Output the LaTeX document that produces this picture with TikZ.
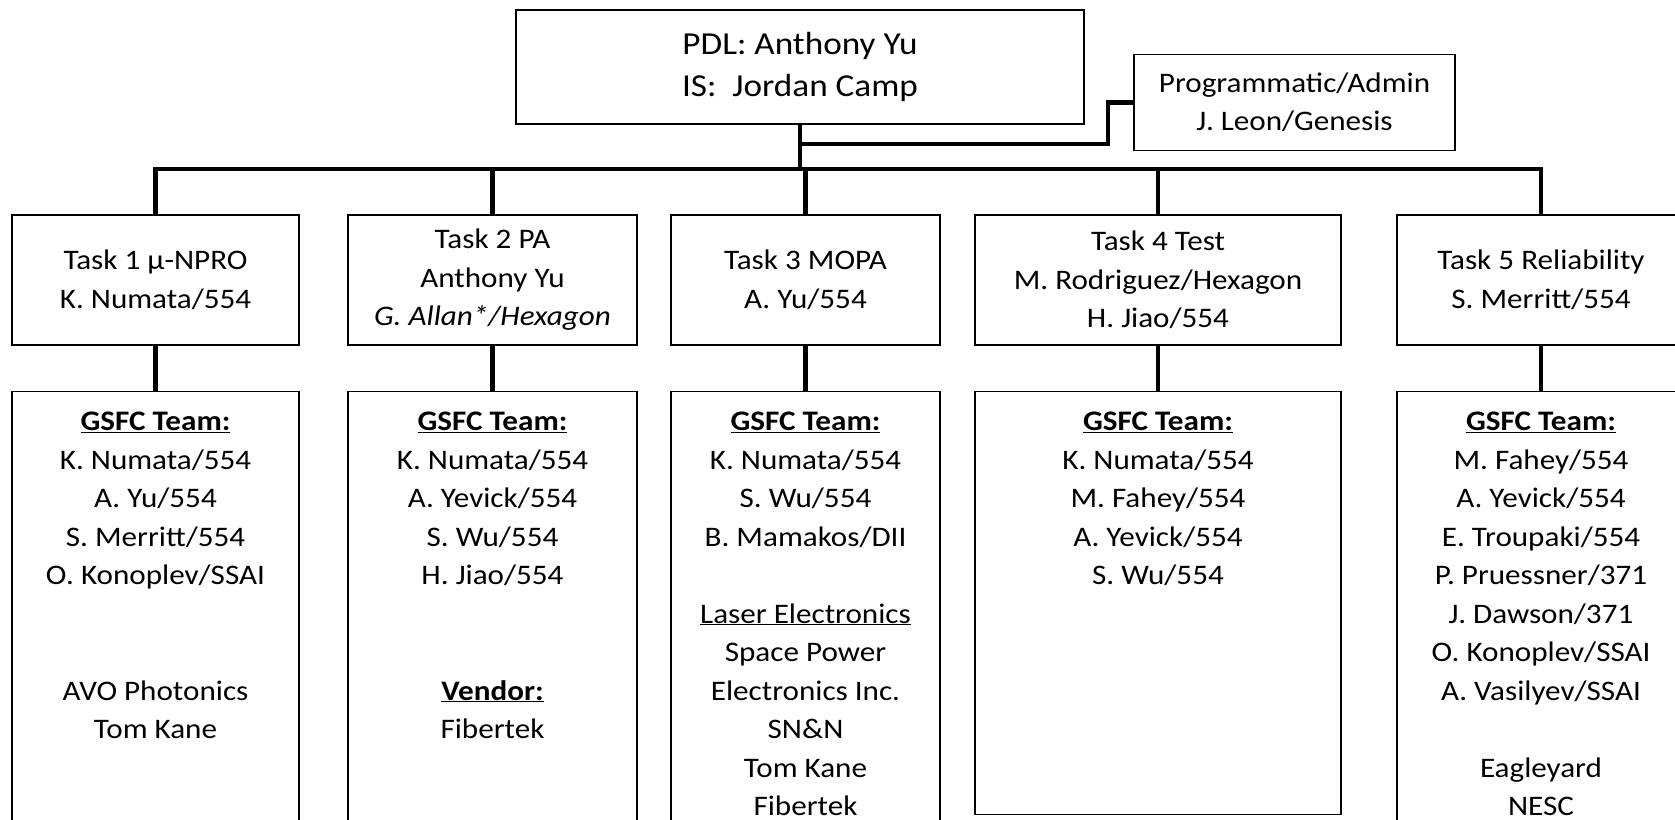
\documentclass[tikz,border=0pt]{standalone}
\usepackage{fontspec}
\setmainfont{Carlito}[FakeStretch=1.1]
\usetikzlibrary{positioning}

\newcommand{\orgfont}{\fontsize{28.3}{38.5}\selectfont}
\newcommand{\headfont}{\fontsize{32}{42.5}\selectfont}
\newcommand{\teamhead}{\underline{\textbf{GSFC Team:}}}

\begin{document}
\begin{tikzpicture}[x=1pt, y=-1pt,
		box/.style={draw, line width=1.6pt, align=center, font=\orgfont, inner sep=0pt},
		taskbox/.style={box, minimum height=130pt},
		teambox/.style={draw, line width=1.6pt},
		teamlist/.style={align=center, font=\orgfont, inner sep=0pt},
		wire/.style={line width=4.5pt}]
	\useasboundingbox (0,0) rectangle (1675,819);
	\clip (0,0) rectangle (1675,819);

	\node[box, minimum width=568pt, minimum height=114pt, font=\headfont] (pdl) at (800,67) {PDL: Anthony Yu\\IS:~~Jordan Camp};
	\node[box, minimum width=321pt, minimum height=96pt] (admin) at (1294.5,102.5) {Programmatic/Admin\\J. Leon/Genesis};

	\node[taskbox, minimum width=287pt] (task1) at (155.5,280) {Task 1 µ-NPRO\\K. Numata/554};
	\node[taskbox, minimum width=289pt] (task2) at (492.5,280) {Task 2 PA\\Anthony Yu\\\textit{G. Allan*/Hexagon}};
	\node[taskbox, minimum width=269pt] (task3) at (805.5,280) {Task 3 MOPA\\A. Yu/554};
	\node[taskbox, minimum width=366pt] (task4) at (1158,280) {Task 4 Test\\M. Rodriguez/Hexagon\\H. Jiao/554};
	\node[taskbox, minimum width=288pt] (task5) at (1541,280) {Task 5 Reliability\\S. Merritt/554};

	% team boxes run off the bottom of the page
	\node[teambox, minimum width=287pt, minimum height=470pt, below=45pt of task1] (team1) {};
	\node[teambox, minimum width=289pt, minimum height=470pt, below=45pt of task2] (team2) {};
	\node[teambox, minimum width=269pt, minimum height=470pt, below=45pt of task3] (team3) {};
	\node[teambox, minimum width=366pt, minimum height=423pt, below=45pt of task4] (team4) {};
	\node[teambox, minimum width=288pt, minimum height=470pt, below=45pt of task5] (team5) {};

	\node[teamlist, below=21pt of team1.north] (list1) {\teamhead\\K. Numata/554\\A. Yu/554\\S. Merritt/554\\O. Konoplev/SSAI\\~\\~\\AVO Photonics\\Tom Kane};
	\node[teamlist, below=21pt of team2.north] (list2) {\teamhead\\K. Numata/554\\A. Yevick/554\\S. Wu/554\\H. Jiao/554\\~\\~\\\underline{\textbf{Vendor:}}\\Fibertek};
	\node[teamlist, below=21pt of team3.north] (list3) {\teamhead\\K. Numata/554\\S. Wu/554\\B. Mamakos/DII\\~\\\underline{Laser Electronics}\\Space Power\\Electronics Inc.\\SN\&N\\Tom Kane\\Fibertek};
	\node[teamlist, below=21pt of team4.north] (list4) {\teamhead\\K. Numata/554\\M. Fahey/554\\A. Yevick/554\\S. Wu/554};
	\node[teamlist, below=21pt of team5.north] (list5) {\teamhead\\M. Fahey/554\\A. Yevick/554\\E. Troupaki/554\\P. Pruessner/371\\J. Dawson/371\\O. Konoplev/SSAI\\A. Vasilyev/SSAI\\~\\Eagleyard\\NESC};

	\coordinate (bus) at (0,169);
	\draw[wire] (pdl.south) -- (pdl.south |- bus);
	\draw[wire] ([yshift=-19pt]pdl.south) -| ([xshift=-25pt]admin.west) -- (admin.west);
	\draw[wire] (task1.north) |- (bus -| task5.north) -- (task5.north);
	\foreach \t in {2,3,4}
		\draw[wire] (task\t.north) -- (task\t.north |- bus);
	\foreach \t in {1,...,5}
		\draw[wire] (task\t.south) -- (team\t.north);
\end{tikzpicture}
\end{document}
